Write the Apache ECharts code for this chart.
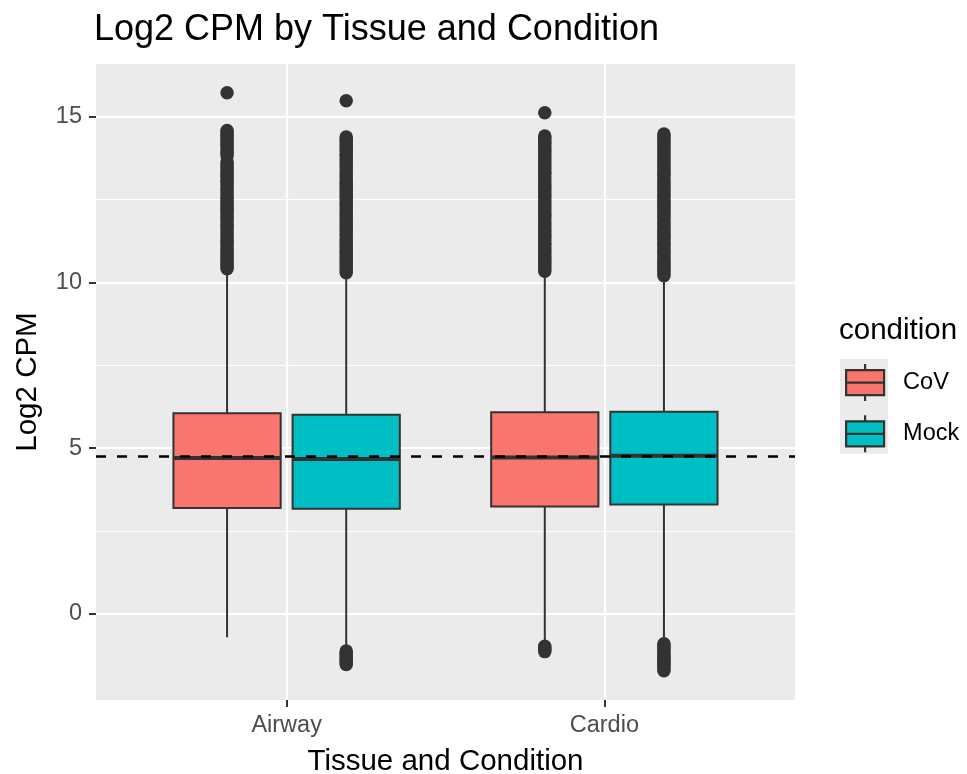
<!DOCTYPE html>
<html>
<head>
<meta charset="utf-8">
<script src="https://cdn.jsdelivr.net/npm/echarts@6/dist/echarts.min.js"></script>
<style>
  html, body { margin: 0; padding: 0; background: #ffffff; }
  #chart { width: 967px; height: 774px; }
</style>
</head>
<body>
<div id="chart"></div>
<script>
// Log2 CPM distribution per tissue, split by infection condition
const tissues = ['Airway', 'Cardio'];
const conditions = ['CoV', 'Mock'];
const conditionColors = ['#F8766D', '#00BFC4'];

// [lower whisker, Q1, median, Q3, upper whisker] for Airway, Cardio
const covStats = [
  [-0.71, 3.19, 4.70, 6.05, 10.33],
  [-0.93, 3.24, 4.72, 6.08, 10.22]
];
const mockStats = [
  [-1.05, 3.17, 4.67, 6.01, 10.20],
  [-0.85, 3.30, 4.77, 6.10, 10.13]
];

// points beyond the whiskers, per tissue
const covOutliersAirway = [15.72, 14.58, 14.52, 14.44, 14.37, 14.29, 14.2, 14.13, 14.06, 13.97, 13.9, 13.82,
  13.64, 13.56, 13.49, 13.41, 13.33, 13.26, 13.17, 13.09, 13.02, 12.94, 12.85, 12.77, 12.7, 12.61, 12.53,
  12.46, 12.38, 12.29, 12.21, 12.14, 12.05, 11.97, 11.9, 11.82, 11.73, 11.66, 11.58, 11.49, 11.41, 11.34,
  11.25, 11.18, 11.1, 11.01, 10.93, 10.86, 10.78, 10.7, 10.61, 10.54, 10.47, 10.41];
const covOutliersCardio = [15.12, 14.42, 14.35, 14.27, 14.2, 14.12, 14.04, 13.96, 13.89, 13.81, 13.72, 13.65,
  13.57, 13.5, 13.41, 13.33, 13.26, 13.18, 13.1, 13.01, 12.94, 12.86, 12.78, 12.7, 12.62, 12.55, 12.46,
  12.38, 12.31, 12.23, 12.14, 12.06, 11.99, 11.91, 11.82, 11.75, 11.67, 11.59, 11.51, 11.43, 11.36, 11.27,
  11.19, 11.12, 11.04, 10.96, 10.88, 10.8, 10.72, 10.64, 10.57, 10.49, 10.41, 10.34,
  -0.98, -1.03, -1.08, -1.14];
const mockOutliersAirway = [15.48, 14.39, 14.33, 14.26, 14.18, 14.11, 14.02, 13.95, 13.87, 13.8, 13.71, 13.63,
  13.56, 13.48, 13.39, 13.31, 13.24, 13.16, 13.07, 12.99, 12.92, 12.84, 12.75, 12.68, 12.6, 12.51, 12.43,
  12.36, 12.28, 12.19, 12.11, 12.04, 11.96, 11.87, 11.79, 11.72, 11.63, 11.55, 11.47, 11.4, 11.31, 11.23,
  11.16, 11.08, 10.99, 10.91, 10.84, 10.75, 10.67, 10.59, 10.52, 10.44, 10.36, 10.29,
  -1.12, -1.18, -1.23, -1.29, -1.35, -1.4, -1.46, -1.53];
const mockOutliersCardio = [14.48, 14.41, 14.33, 14.25, 14.18, 14.1, 14.01, 13.94, 13.86, 13.78, 13.7, 13.62,
  13.55, 13.47, 13.38, 13.3, 13.23, 13.15, 13.06, 12.98, 12.91, 12.83, 12.74, 12.67, 12.59, 12.5, 12.42,
  12.35, 12.27, 12.18, 12.1, 12.03, 11.95, 11.86, 11.78, 11.71, 11.62, 11.54, 11.46, 11.39, 11.3, 11.22,
  11.15, 11.07, 10.98, 10.9, 10.83, 10.74, 10.66, 10.58, 10.51, 10.43, 10.35, 10.27, 10.2,
  -0.9, -0.96, -1.02, -1.08, -1.15, -1.21, -1.27, -1.34, -1.4, -1.46, -1.53, -1.59, -1.66, -1.72];

// dashed reference line (overall median)
const overallMedian = 4.74;

// axis ticks
const yMajorTicks = [0, 5, 10, 15];
const yMinorTicks = [2.5, 7.5, 12.5];
const yLimits = [-2.6, 16.59];
const xLimits = [-0.6, 1.6];

const statsByCondition = [covStats, mockStats];
const outliersByCondition = [
  [covOutliersAirway, covOutliersCardio],
  [mockOutliersAirway, mockOutliersCardio]
];

// dodge layout (in category units)
const DODGE = 0.75;
const BOX_WIDTH = DODGE / conditions.length * 0.9;
const INK = '#333333';
const FONT = '"Liberation Sans", Arial, Helvetica, sans-serif';

function dodgeOffset(ci) {
  return (ci - (conditions.length - 1) / 2) * DODGE / conditions.length;
}

function makeBoxRenderer(offset) {
  return function (params, api) {
    const x = api.value(0) + offset;
    const pLo = api.coord([x, api.value(1)]);
    const pQ1 = api.coord([x, api.value(2)]);
    const pMed = api.coord([x, api.value(3)]);
    const pQ3 = api.coord([x, api.value(4)]);
    const pHi = api.coord([x, api.value(5)]);
    const xl = api.coord([x - BOX_WIDTH / 2, 0])[0];
    const xr = api.coord([x + BOX_WIDTH / 2, 0])[0];
    return {
      type: 'group',
      children: [
        { type: 'line', shape: { x1: pLo[0], y1: pLo[1], x2: pQ1[0], y2: pQ1[1] },
          style: { stroke: INK, lineWidth: 2 } },
        { type: 'line', shape: { x1: pQ3[0], y1: pQ3[1], x2: pHi[0], y2: pHi[1] },
          style: { stroke: INK, lineWidth: 2 } },
        { type: 'rect', shape: { x: xl, y: pQ3[1], width: xr - xl, height: pQ1[1] - pQ3[1] },
          style: { fill: api.visual('color'), stroke: INK, lineWidth: 2 } },
        { type: 'line', shape: { x1: xl, y1: pMed[1], x2: xr, y2: pMed[1] },
          style: { stroke: INK, lineWidth: 4 } }
      ]
    };
  };
}

const series = [];
conditions.forEach(function (cond, ci) {
  const off = dodgeOffset(ci);
  series.push({
    name: cond,
    type: 'custom',
    renderItem: makeBoxRenderer(off),
    itemStyle: { color: conditionColors[ci] },
    encode: { x: 0, y: [1, 2, 3, 4, 5] },
    data: statsByCondition[ci].map(function (s, ti) { return [ti].concat(s); }),
    z: 2
  });
  const pts = [];
  outliersByCondition[ci].forEach(function (vals, ti) {
    vals.forEach(function (v) { pts.push([ti + off, v]); });
  });
  series.push({
    name: cond + ' outliers',
    type: 'scatter',
    symbol: 'circle',
    symbolSize: 13.5,
    itemStyle: { color: INK, opacity: 1 },
    data: pts,
    z: 3
  });
});

// dashed horizontal reference line
series.push({
  name: 'reference',
  type: 'scatter',
  data: [],
  markLine: {
    silent: true,
    symbol: 'none',
    label: { show: false },
    lineStyle: { type: [10, 11], color: '#000000', width: 2.6 },
    data: [{ yAxis: overallMedian }]
  }
});

const boxIcon = 'path://M0,6 L38,6 L38,31 L0,31 Z M0,18.5 L38,18.5 M19,0 L19,6 M19,31 L19,37';

const option = {
  animation: false,
  backgroundColor: '#ffffff',
  title: [
    {
      text: 'Log2 CPM by Tissue and Condition',
      left: 94, top: 12, padding: 0,
      textStyle: { fontFamily: FONT, fontSize: 36, fontWeight: 'normal', color: '#000000' }
    },
    {
      text: 'condition',
      left: 839, top: 316, padding: 0,
      textStyle: { fontFamily: FONT, fontSize: 29.5, fontWeight: 'normal', color: '#000000' }
    }
  ],
  graphic: [
    { type: 'rect', left: 840, top: 359, shape: { width: 48, height: 95 },
      style: { fill: '#EBEBEB' }, z: -1 }
  ],
  legend: {
    data: conditions.map(function (c, ci) {
      return { name: c, icon: boxIcon,
        itemStyle: { color: conditionColors[ci], borderColor: INK, borderWidth: 2.2 } };
    }),
    orient: 'vertical',
    left: 845, top: 363,
    padding: 0,
    itemWidth: 38, itemHeight: 37, itemGap: 12,
    selectedMode: false,
    textStyle: { fontFamily: FONT, fontSize: 23.5, color: '#000000', padding: [0, 0, 0, 14] }
  },
  grid: {
    left: 96, right: 172, top: 64, bottom: 74,
    show: true, backgroundColor: '#EBEBEB', borderWidth: 0,
    outerBoundsMode: 'none',
    containLabel: false
  },
  xAxis: {
    type: 'value',
    min: xLimits[0], max: xLimits[1],
    name: 'Tissue and Condition',
    nameLocation: 'middle',
    nameGap: 47,
    nameTextStyle: { fontFamily: FONT, fontSize: 29.5, color: '#000000' },
    axisLine: { show: false, onZero: false },
    axisTick: { show: true, length: 7, customValues: [0, 1],
      lineStyle: { color: INK, width: 2 } },
    axisLabel: { customValues: [0, 1], margin: 14,
      formatter: function (v) { return tissues[Math.round(v)]; },
      fontFamily: FONT, fontSize: 23.5, color: '#4D4D4D' },
    splitLine: { show: true, lineStyle: { color: '#ffffff', width: 2.2 } }
  },
  yAxis: [
    {
      type: 'value',
      position: 'left',
      min: yLimits[0], max: yLimits[1],
      name: 'Log2 CPM',
      nameLocation: 'middle',
      nameGap: 53,
      nameTextStyle: { fontFamily: FONT, fontSize: 29.5, color: '#000000' },
      axisLine: { show: false, onZero: false },
      axisTick: { show: true, length: 7, customValues: yMajorTicks,
        lineStyle: { color: INK, width: 2 } },
      axisLabel: { customValues: yMajorTicks, margin: 14,
        fontFamily: FONT, fontSize: 23.5, color: '#4D4D4D' },
      splitLine: { show: true, lineStyle: { color: '#ffffff', width: 2.2 } }
    },
    {
      type: 'value',
      position: 'left',
      min: yLimits[0], max: yLimits[1],
      axisLine: { show: false, onZero: false },
      axisTick: { show: false, customValues: yMinorTicks },
      axisLabel: { show: false, customValues: yMinorTicks },
      splitLine: { show: true, lineStyle: { color: '#ffffff', width: 1.1 } }
    }
  ],
  series: series
};

const chart = echarts.init(document.getElementById('chart'), null, { renderer: 'canvas' });
chart.setOption(option);
</script>
</body>
</html>
